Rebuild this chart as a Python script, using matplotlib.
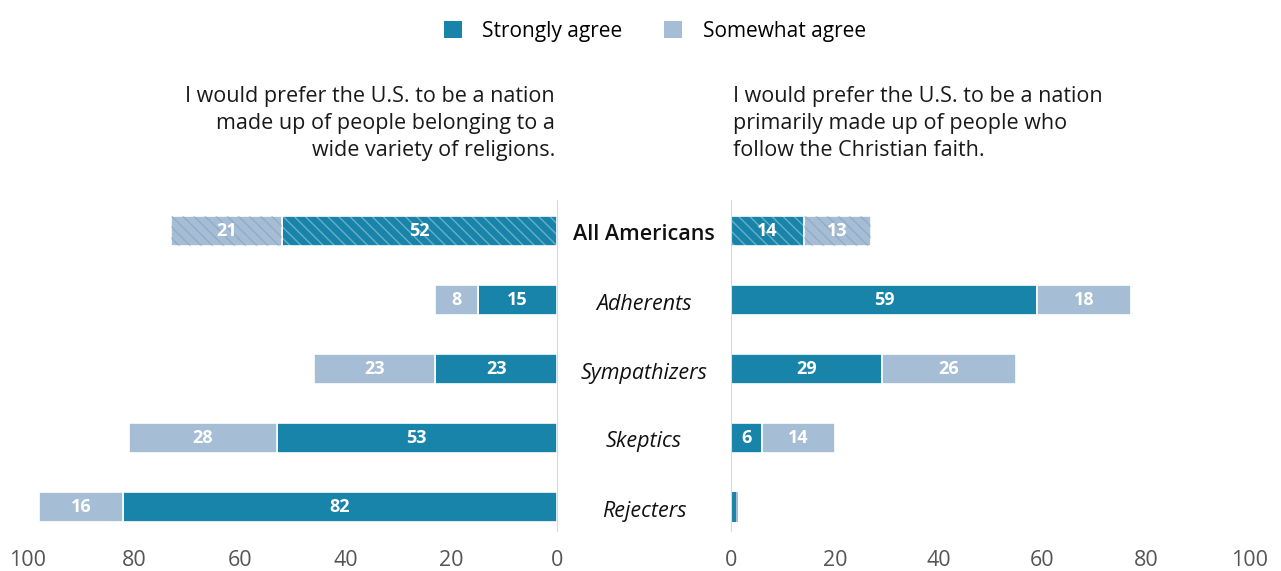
import matplotlib.pyplot as plt
from matplotlib.patches import Patch

plt.rcParams['font.family'] = ['Open Sans', 'DejaVu Sans']

# 数据
groups = ['All Americans', 'Adherents', 'Sympathizers', 'Skeptics', 'Rejecters']
left_strong = [52, 15, 23, 53, 82]
left_some = [21, 8, 23, 28, 16]
right_strong = [14, 59, 29, 6, 1]
right_some = [13, 18, 26, 14, 0.4]
ticks = [0, 20, 40, 60, 80, 100]

left_title = 'I would prefer the U.S. to be a nation\nmade up of people belonging to a\nwide variety of religions.'
right_title = 'I would prefer the U.S. to be a nation\nprimarily made up of people who\nfollow the Christian faith.'

c_strong = '#1884aa'
c_some = '#a5bed6'
W, H = 1281, 571

fig = plt.figure(figsize=(W / 100, H / 100), dpi=100)

def px_axes(x0, x1, y0, y1):
    return fig.add_axes([x0 / W, 1 - y1 / H, (x1 - x0) / W, (y1 - y0) / H])

axL = px_axes(28, 557, 196, 542)
axR = px_axes(731, 1250, 196, 542)

def draw(ax, strong, some, side):
    for i, (s, m) in enumerate(zip(strong, some)):
        lw = 1.2 if m >= 1 else 0
        ax.barh(i, s, left=0, height=0.435, color=c_strong, edgecolor='white', linewidth=lw)
        ax.barh(i, m, left=s, height=0.435, color=c_some, edgecolor='white', linewidth=lw)
        if i == 0:
            # 全体美国人用斜线填充
            ax.barh(i, s, left=0, height=0.435, fill=False, hatch='\\\\\\',
                    edgecolor=(1, 1, 1, 0.35), linewidth=0)
            ax.barh(i, m, left=s, height=0.435, fill=False, hatch='\\\\\\',
                    edgecolor=(0.45, 0.55, 0.65, 0.35), linewidth=0)
        for v, x0 in [(s, 0), (m, s)]:
            if v >= 3:
                ax.text(x0 + v / 2, i, f'{v:g}', ha='center', va='center',
                        color='white', fontsize=13, fontweight='bold')
    ax.set_ylim(4.507, -0.507)
    ax.set_xticks(ticks)
    ax.tick_params(axis='x', length=0, labelsize=15.5, labelcolor='#555555', pad=6)
    ax.set_yticks([])
    for sp in ax.spines.values():
        sp.set_visible(False)
    sp = ax.spines['right' if side == 'L' else 'left']
    sp.set_visible(True)
    sp.set_color('#d9d9d9')
    sp.set_bounds(-0.45, 4.35)

draw(axL, left_strong, left_some, 'L')
axL.set_xlim(100, 0)
draw(axR, right_strong, right_some, 'R')
axR.set_xlim(0, 100)

# 类别标签
for i, g in enumerate(groups):
    y = 235 + 69 * i
    if i == 0:
        fig.text(644 / W, 1 - y / H, g, ha='center', va='center', fontsize=15.5,
                 fontweight='semibold', color='#111111')
    else:
        fig.text(644 / W, 1 - y / H, g, ha='center', va='center', fontsize=15.5,
                 style='italic', color='#111111')

# 标题
fig.text(555 / W, 1 - 86 / H, left_title, ha='right', va='top', fontsize=15.5,
         color='#1a1a1a', linespacing=1.38)
fig.text(733 / W, 1 - 86 / H, right_title, ha='left', va='top', fontsize=15.5,
         color='#1a1a1a', linespacing=1.38)

# 图例
handles = [Patch(facecolor=c_strong, label='Strongly agree'),
           Patch(facecolor=c_some, label='Somewhat agree')]
fig.legend(handles=handles, loc='upper center', bbox_to_anchor=(655 / W, 1 - 2 / H),
           ncol=2, frameon=False, fontsize=15, handlelength=0.85, handleheight=0.85,
           columnspacing=2.0, handletextpad=1.0)

plt.savefig('out.png', dpi=100)
